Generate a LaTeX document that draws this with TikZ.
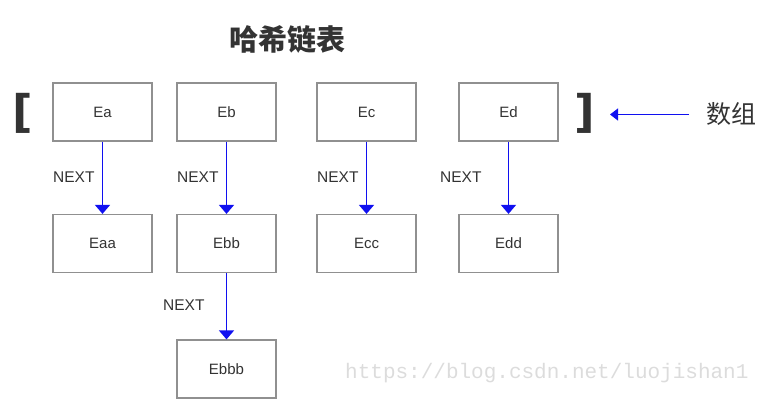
\documentclass[tikz,border=0pt]{standalone}
\usepackage{fontspec}
\setmainfont{Liberation Sans}
\newfontfamily\cjk{Noto Sans CJK SC}
\newfontfamily\brfont{DejaVu Sans}
\newfontfamily\wmfont{Liberation Mono}
\usetikzlibrary{arrows.meta}
\definecolor{boxgray}{HTML}{909090}
\definecolor{txtgray}{HTML}{333333}
\definecolor{arrblue}{HTML}{1010F0}
\definecolor{wmgray}{HTML}{DCDCDC}
\tikzset{
  elem/.style={draw=boxgray, line width=1.2pt, minimum width=99pt, minimum height=58pt,
    inner sep=0pt, text=txtgray, font=\fontsize{15}{15}\selectfont},
  nextlbl/.style={anchor=west, inner sep=0pt, text=txtgray, font=\fontsize{15.5}{15.5}\selectfont},
  link/.style={draw=arrblue, line width=1.4pt, -{Triangle[width=15pt,length=9pt]}},
  brk/.style={inner sep=0pt, text=txtgray, font=\brfont\bfseries\fontsize{45}{45}\selectfont}
}
\begin{document}
\begin{tikzpicture}[x=1pt,y=-1pt]
\useasboundingbox (0,0) rectangle (781,406);
\node[inner sep=0pt, text=txtgray, font=\cjk\bfseries\fontsize{29}{29}\selectfont] (title) at (287.5,39) {哈希链表};
\node[brk] (lb) at (23,113.5) {[};
\node[brk] (rb) at (585,113.5) {]};
\node[elem] (Ea) at (102.5,112) {Ea};
\node[elem] (Eb) at (226.5,112) {Eb};
\node[elem] (Ec) at (366.5,112) {Ec};
\node[elem] (Ed) at (508.5,112) {Ed};
\node[elem] (Eaa) at (102.5,243.5) {Eaa};
\node[elem] (Ebb) at (226.5,243.5) {Ebb};
\node[elem] (Ecc) at (366.5,243.5) {Ecc};
\node[elem] (Edd) at (508.5,243.5) {Edd};
\node[elem] (Ebbb) at (226.5,369) {Ebbb};
\node[nextlbl] (n1) at (53,177) {NEXT};
\node[nextlbl] (n2) at (177,177) {NEXT};
\node[nextlbl] (n3) at (317,177) {NEXT};
\node[nextlbl] (n4) at (440,177) {NEXT};
\node[nextlbl] (n5) at (163,305) {NEXT};
\draw[link] (Ea.south) -- (Eaa.north);
\draw[link] (Eb.south) -- (Ebb.north);
\draw[link] (Ec.south) -- (Ecc.north);
\draw[link] (Ed.south) -- (Edd.north);
\draw[link] (Ebb.south) -- (Ebbb.north);
\node[anchor=west, inner sep=0pt, text=txtgray, font=\cjk\fontsize{25}{25}\selectfont] (arr) at (706,114) {数组};
\coordinate (as) at (689,114.5);
\coordinate (ae) at (610,114.5);
\draw[draw=arrblue, line width=1.2pt, -{Triangle[width=12pt,length=8pt]}] (as) -- (ae);
\node[anchor=west, inner sep=0pt, text=wmgray, font=\wmfont\fontsize{21}{21}\selectfont] (wm) at (345,373) {https://blog.csdn.net/luojishan1};
\end{tikzpicture}
\end{document}
